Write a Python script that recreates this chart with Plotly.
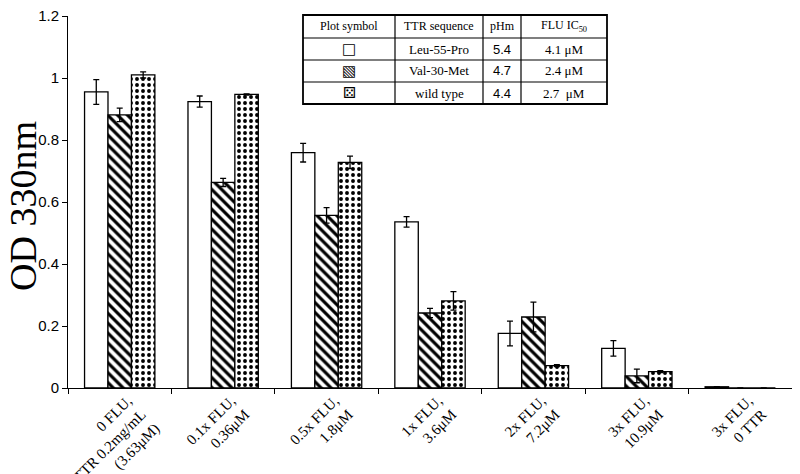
import plotly.graph_objects as go

categories = [
    "0 FLU,<br>TTR 0.2mg/mL<br>(3.63μM)",
    "0.1x FLU,<br>0.36μM",
    "0.5x FLU,<br>1.8μM",
    "1x FLU,<br>3.6μM",
    "2x FLU,<br>7.2μM",
    "3x FLU,<br>10.9μM",
    "3x FLU,<br>0 TTR",
]

leu55pro = [0.955, 0.924, 0.759, 0.536, 0.176, 0.128, 0.004]
leu55pro_err = [0.040, 0.018, 0.030, 0.017, 0.040, 0.025, 0.0]

val30met = [0.881, 0.663, 0.557, 0.242, 0.229, 0.039, 0.0]
val30met_err = [0.022, 0.013, 0.025, 0.015, 0.048, 0.022, 0.0]

wildtype = [1.010, 0.947, 0.728, 0.281, 0.072, 0.053, 0.0]
wildtype_err = [0.010, 0.002, 0.020, 0.030, 0.003, 0.003, 0.0]

y_ticks = [0, 0.2, 0.4, 0.6, 0.8, 1, 1.2]
y_ticktext = ["0", "0.2", "0.4", "0.6", "0.8", "1", "1.2"]
y_title = "OD 330nm"

table_header = ["Plot symbol", "TTR sequence", "pHm", "FLU IC<sub>50</sub>"]
table_symbols = ["□", "▧", "⚄"]
table_sequences = ["Leu-55-Pro", "Val-30-Met", "wild type"]
table_phm = ["5.4", "4.7", "4.4"]
table_ic50 = ["4.1 μM", "2.4 μM", "2.7  μM"]

serif = "Liberation Serif, Times New Roman, serif"
sans = "Liberation Sans, Arial, sans-serif"
symfont = "DejaVu Sans, sans-serif"

# the page body has an 8px margin; the figure is sized to fit the window
OFF = 8
W, H = 792, 466
ML, MR, MT, MB = 60, 8, 8, 86
PW, PH = W - ML - MR, H - MT - MB

line = dict(color="black", width=1.3)


def err(vals):
    return dict(type="data", array=vals, visible=True, color="black",
                thickness=1.3, width=3)


fig = go.Figure()
fig.add_trace(go.Bar(
    x=categories, y=leu55pro, name="Leu-55-Pro",
    marker=dict(color="white", line=line),
    error_y=err(leu55pro_err),
))
fig.add_trace(go.Bar(
    x=categories, y=val30met, name="Val-30-Met",
    marker=dict(color="white", line=line,
                pattern=dict(shape="\\", fgcolor="black", bgcolor="white",
                             fgopacity=1, size=7, solidity=0.45)),
    error_y=err(val30met_err),
))
fig.add_trace(go.Bar(
    x=categories, y=wildtype, name="wild type",
    marker=dict(color="white", line=line,
                pattern=dict(shape=".", fgcolor="black", bgcolor="white",
                             fgopacity=1, size=6, solidity=0.33)),
    error_y=err(wildtype_err),
))


# ---- layout helpers: screen pixel -> paper coords
def px(xp):
    return (xp - OFF - ML) / PW


def py(yp):
    return (MT + PH - (yp - OFF)) / PH


col_edges = [303, 395, 483, 521, 607]
row_edges = [15, 38, 60, 82, 104]

shapes = []
shapes.append(dict(type="rect", xref="paper", yref="paper",
                   x0=px(col_edges[0]), x1=px(col_edges[-1]),
                   y0=py(row_edges[-1]), y1=py(row_edges[0]),
                   line=dict(color="black", width=1.8), fillcolor="white",
                   layer="above"))
for xe in col_edges[1:-1]:
    shapes.append(dict(type="line", xref="paper", yref="paper",
                       x0=px(xe), x1=px(xe), y0=py(row_edges[-1]), y1=py(row_edges[0]),
                       line=dict(color="black", width=1.2), layer="above"))
for ye in row_edges[1:-1]:
    shapes.append(dict(type="line", xref="paper", yref="paper",
                       x0=px(col_edges[0]), x1=px(col_edges[-1]), y0=py(ye), y1=py(ye),
                       line=dict(color="black", width=1.2), layer="above"))

annotations = []
columns = [table_symbols, table_sequences, table_phm, table_ic50]
col_fonts = [symfont, serif, sans, serif]
col_sizes = [15, 13, 13, 13]
for ci, head in enumerate(table_header):
    cx = (col_edges[ci] + col_edges[ci + 1]) / 2
    cy = (row_edges[0] + row_edges[1]) / 2
    annotations.append(dict(xref="paper", yref="paper", x=px(cx), y=py(cy),
                            text=head, showarrow=False, xanchor="center", yanchor="middle",
                            font=dict(family=serif, size=12, color="black")))
    for ri, val in enumerate(columns[ci]):
        cy = (row_edges[ri + 1] + row_edges[ri + 2]) / 2
        annotations.append(dict(xref="paper", yref="paper", x=px(cx), y=py(cy),
                                text=val, showarrow=False, xanchor="center",
                                yanchor="middle",
                                font=dict(family=col_fonts[ci], size=col_sizes[ci],
                                          color="black")))

# y-axis title as a rotated annotation
annotations.append(dict(xref="paper", yref="paper", x=px(23), y=py(206),
                        text=y_title, textangle=-90, showarrow=False,
                        xanchor="center", yanchor="middle", borderpad=0,
                        font=dict(family=serif, size=38, color="black")))

fig.update_layout(
    width=W, height=H,
    margin=dict(l=ML, r=MR, t=MT, b=MB),
    paper_bgcolor="white", plot_bgcolor="white",
    barmode="group", bargap=0.32, bargroupgap=0,
    showlegend=False,
    shapes=shapes, annotations=annotations,
)
fig.update_yaxes(
    range=[0, 1.2], tickvals=y_ticks, ticktext=y_ticktext,
    showgrid=False, zeroline=False, automargin=False,
    showline=True, linecolor="black", linewidth=1,
    ticks="outside", ticklen=5, tickcolor="black",
    ticklabeloverflow="allow",
    tickfont=dict(family=sans, size=15, color="black"),
)
fig.update_xaxes(
    showgrid=False, zeroline=False, automargin=False,
    showline=True, linecolor="black", linewidth=1,
    ticks="outside", ticklen=5, tickcolor="black", tickson="boundaries",
    tickangle=-45, ticklabeloverflow="allow",
    ticklabelshift=8, ticklabelstandoff=-3,
    tickfont=dict(family=serif, size=15, color="black"),
)

fig.write_html("out.html")
